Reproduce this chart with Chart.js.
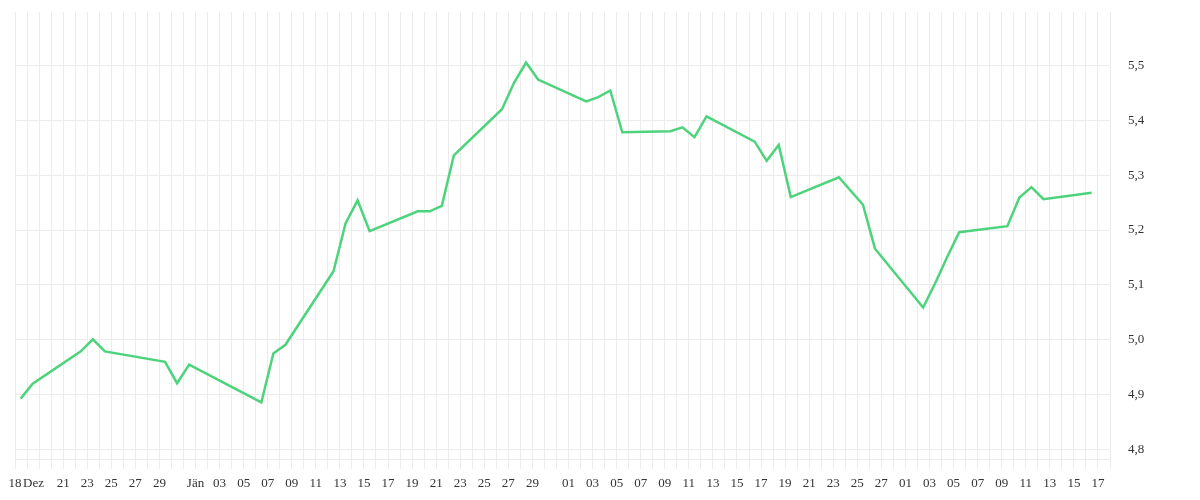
<!DOCTYPE html>
<html>
<head>
<meta charset="utf-8">
<script src="https://cdn.jsdelivr.net/npm/chart.js@4.4.1/dist/chart.umd.min.js"></script>
<style>
  html, body { margin: 0; padding: 0; background: #fff; }
  #wrap { width: 1200px; height: 500px; position: relative; }
</style>
</head>
<body>
<div id="wrap"><canvas id="rateChart"></canvas></div>
<script>
// one grid line per calendar day, index 0 = 17 Dez ... index 91 = 18 Mär
const tickLabels = [
    '18','    Dez','','','21','','23','','25','','27','','29','','',
    'Jän','','03','','05','','07','','09','','11','','13','','15','','17','','19','','21','','23','','25','','27','','29','','',
    '01','','03','','05','','07','','09','','11','','13','','15','','17','','19','','21','','23','','25','','27','',
    '01','','03','','05','','07','','09','','11','','13','','15','','17',''
];

// day index of each quote (same index as above) and its value
const quoteDays = [0, 1, 5, 6, 7, 12, 13, 14, 20, 21, 22, 26, 27, 28, 29, 33, 34, 35, 36,
    40, 41, 42, 43, 47, 48, 49, 50, 54, 55, 56, 57, 61, 62, 63, 64, 68, 70, 71,
    75, 76, 77, 78, 82, 83, 84, 85, 89];
const quoteValues = [4.893, 4.920, 4.979, 5.001, 4.979, 4.960, 4.921, 4.955, 4.886, 4.975, 4.991,
    5.125, 5.212, 5.254, 5.198, 5.234, 5.234, 5.244, 5.336,
    5.420, 5.468, 5.505, 5.474, 5.434, 5.442, 5.454, 5.378, 5.380, 5.387, 5.369, 5.407,
    5.361, 5.326, 5.355, 5.260, 5.296, 5.246, 5.166,
    5.059, 5.103, 5.151, 5.196, 5.207, 5.259, 5.278, 5.256, 5.268];
const quoteTime = 0.47; // quotes are taken late morning

const yTicks = [4.8, 4.9, 5.0, 5.1, 5.2, 5.3, 5.4, 5.5];
const yMin = 4.783;
const yMax = 5.597;

const gridColor = '#ececec';
const tickFont = { family: '"Liberation Serif", serif', size: 13 };

const points = quoteDays.map((d, i) => ({ x: d + quoteTime, y: quoteValues[i] }));

const ctx = document.getElementById('rateChart').getContext('2d');
const rateChart = new Chart(ctx, {
    type: 'line',
    data: {
        datasets: [{
            label: 'Kurs',
            data: points,
            borderColor: '#4cd37b',
            borderWidth: 2.5,
            tension: 0,
            fill: false,
            pointRadius: 0
        }]
    },
    options: {
        responsive: true,
        maintainAspectRatio: false,
        animation: false,
        layout: { padding: { left: 15, top: 12, right: 0, bottom: 0 } },
        plugins: { legend: { display: false }, tooltip: { enabled: false } },
        scales: {
            x: {
                type: 'linear',
                min: 0,
                max: tickLabels.length - 1,
                afterBuildTicks: (scale) => { scale.ticks = tickLabels.map((_, i) => ({ value: i })); },
                afterFit: (scale) => { scale.height = 41; },
                grid: { color: gridColor, tickLength: 10, tickColor: gridColor },
                border: { color: gridColor },
                ticks: {
                    autoSkip: false,
                    maxRotation: 0,
                    padding: 7,
                    color: '#333',
                    font: tickFont,
                    callback: (v) => tickLabels[Math.round(v)]
                }
            },
            y: {
                position: 'right',
                min: yMin,
                max: yMax,
                afterBuildTicks: (scale) => { scale.ticks = yTicks.map(v => ({ value: v })); },
                afterFit: (scale) => { scale.width = 90; },
                // invisible tick marks keep the labels away from the plot
                grid: { color: gridColor, drawTicks: true, tickLength: 16, tickColor: 'rgba(0,0,0,0)' },
                border: { display: false },
                ticks: {
                    padding: 2,
                    color: '#333',
                    font: tickFont,
                    callback: (v) => v.toFixed(1).replace('.', ',')
                }
            }
        }
    }
});
</script>
</body>
</html>
